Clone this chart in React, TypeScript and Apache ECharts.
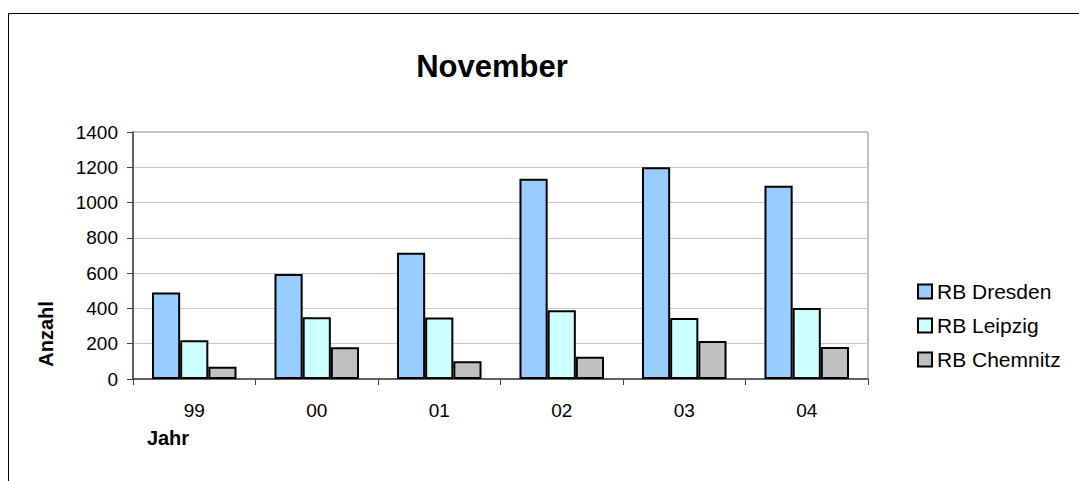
import React, { useEffect, useRef } from "react";
import * as echarts from "echarts";

const categories = ["99", "00", "01", "02", "03", "04"];
const dresden = [490, 595, 715, 1135, 1200, 1095];
const leipzig = [220, 350, 348, 390, 346, 402];
const chemnitz = [70, 180, 100, 126, 215, 181];
const seriesNames = ["RB Dresden", "RB Leipzig", "RB Chemnitz"];
const seriesColors = ["#99CCFF", "#CCFFFF", "#C0C0C0"];

const FONT = "'Liberation Sans', Arial, sans-serif";

export default function App() {
  const ref = useRef<HTMLDivElement>(null);
  useEffect(() => {
    document.body.style.margin = "0";
    if (!ref.current) return;
    const chart = echarts.init(ref.current, undefined, { renderer: "svg" });
    const values = [dresden, leipzig, chemnitz];
    chart.setOption({
      animation: false,
      backgroundColor: "#ffffff",
      textStyle: { fontFamily: FONT },
      grid: {
        left: 133,
        top: 132,
        right: 211,
        bottom: 102,
        containLabel: false,
        show: true,
        borderColor: "#808080",
        borderWidth: 1,
        backgroundColor: "transparent",
      },
      legend: {
        orient: "vertical",
        left: 917,
        top: 281,
        padding: 0,
        itemWidth: 14,
        itemHeight: 14,
        itemGap: 13,
        icon: "rect",
        selectedMode: false,
        data: seriesNames,
        textStyle: { fontSize: 21, color: "#000", fontFamily: FONT, lineHeight: 21 },
      },
      xAxis: {
        type: "category",
        data: categories,
        boundaryGap: true,
        axisLine: { lineStyle: { color: "#404040", width: 1.5 } },
        axisTick: { show: true, length: 6, lineStyle: { color: "#404040" } },
        axisLabel: { fontSize: 19, color: "#000", margin: 22, fontFamily: FONT },
        splitLine: { show: false },
      },
      yAxis: {
        type: "value",
        min: 0,
        max: 1400,
        interval: 200,
        axisLine: { show: true, lineStyle: { color: "#404040", width: 1.5 } },
        axisTick: { show: true, length: 6, lineStyle: { color: "#404040" } },
        axisLabel: {
          fontSize: 19,
          color: "#000",
          margin: 15,
          fontFamily: FONT,
          formatter: (v: number) => String(v),
        },
        splitLine: { show: true, lineStyle: { color: "#C8C8C8", width: 1 } },
      },
      series: seriesNames.map((name, i) => ({
        name,
        type: "bar",
        data: values[i],
        barGap: "0%",
        barCategoryGap: "31%",
        itemStyle: { color: seriesColors[i], borderColor: "#000", borderWidth: 2 },
      })),
      graphic: [
        {
          type: "polyline",
          shape: {
            points: [
              [8.5, 481],
              [8.5, 13.5],
              [1079, 13.5],
            ],
          },
          style: { fill: "none", stroke: "#000", lineWidth: 1 },
          silent: true,
        },
        {
          type: "text",
          x: 492,
          y: 66.5,
          style: {
            text: "November",
            fontSize: 31,
            fontWeight: "bold",
            fontFamily: FONT,
            fill: "#000",
            textAlign: "center",
            textVerticalAlign: "middle",
          },
        },
        {
          type: "text",
          x: 45.5,
          y: 334,
          rotation: Math.PI / 2,
          style: {
            text: "Anzahl",
            fontSize: 20,
            fontWeight: "bold",
            fontFamily: FONT,
            fill: "#000",
            textAlign: "center",
            textVerticalAlign: "middle",
          },
        },
        {
          type: "text",
          x: 168,
          y: 437.5,
          style: {
            text: "Jahr",
            fontSize: 20,
            fontWeight: "bold",
            fontFamily: FONT,
            fill: "#000",
            textAlign: "center",
            textVerticalAlign: "middle",
          },
        },
      ],
    });
    return () => chart.dispose();
  }, []);
  return <div ref={ref} style={{ width: 1079, height: 481 }} />;
}
